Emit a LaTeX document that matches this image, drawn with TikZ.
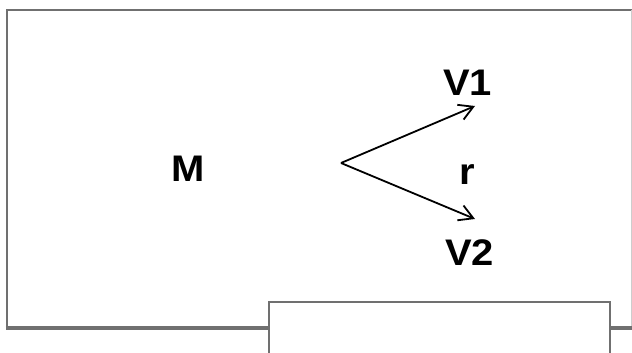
\documentclass[tikz,border=0pt]{standalone}
\usepackage{fontspec}
\setmainfont{Liberation Sans}
\usetikzlibrary{arrows.meta}
\definecolor{frame}{RGB}{112,112,112}
\tikzset{
  lbl/.style={font=\fontsize{37}{40}\selectfont\bfseries, inner sep=0pt, xscale=1.08, transform shape},
  edge/.style={draw=frame, line width=2.4pt},
  conn/.style={draw=black, line width=1.8pt, -{Straight Barb[length=14pt,width=16pt,line width=1.8pt]}}
}
\begin{document}
\begin{tikzpicture}[x=1pt,y=-1pt]
\useasboundingbox (0,0) rectangle (632,353);
\fill[white] (0,0) rectangle (632,353);
% outer frame
\draw[edge] (7,328) -- (7,10) -- (632,10);
\draw[draw=frame!35, line width=1pt] (631.5,10) -- (631.5,328);
\draw[draw=frame, line width=3.6pt] (5.8,328) -- (632,328);
% inner box
\path[edge, fill=white] (269,360) -- (269,302) -- (610,302) -- (610,360);
% labels
\node[lbl] (M) at (188.5,169) {M};
\node[lbl] (V1) at (467.5,82.5) {V1};
\node[lbl] (r) at (467,174.5) {r};
\node[lbl] (V2) at (469.5,252.5) {V2};
% connectors
\coordinate (o) at (341,163);
\coordinate (t1) at (475,106);
\coordinate (t2) at (475,219);
\draw[conn] (o) -- (t1);
\draw[conn] (o) -- (t2);
\end{tikzpicture}
\end{document}
